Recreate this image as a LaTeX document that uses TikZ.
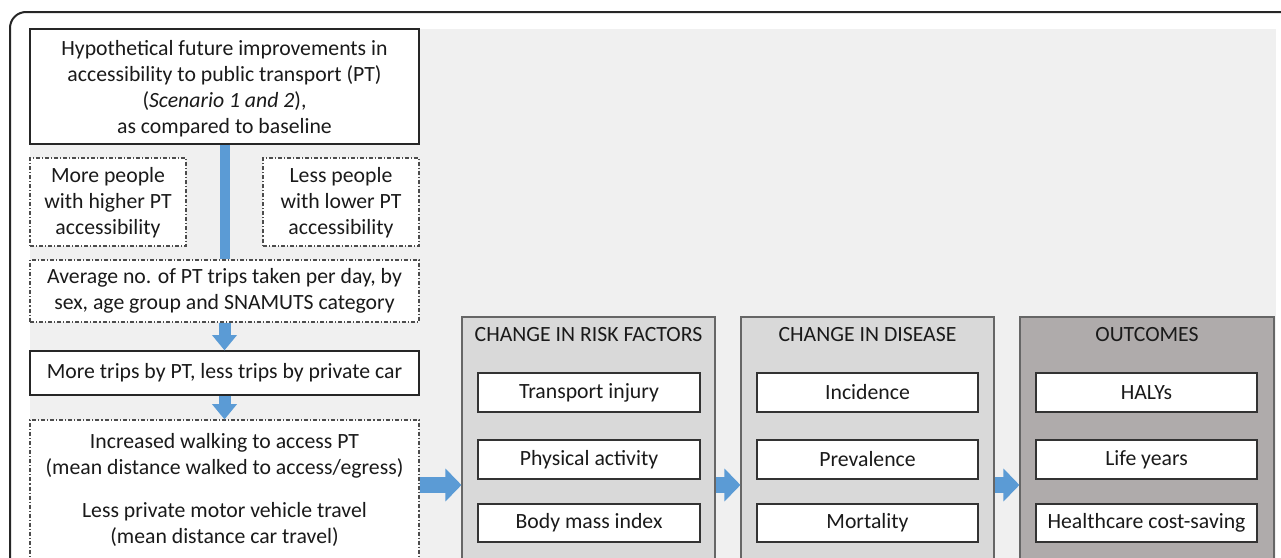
\documentclass[tikz,border=0pt]{standalone}
\usepackage{fontspec}
\setmainfont{Carlito}
\usetikzlibrary{fit,arrows.meta}
\definecolor{bgpanel}{HTML}{F0F0F0}
\definecolor{rfgray}{HTML}{D9D9D9}
\definecolor{outgray}{HTML}{AFABAB}
\definecolor{pblue}{HTML}{5B9BD5}
\definecolor{txt}{HTML}{1A1A1A}
\tikzset{
  solidbox/.style={draw=black!85, line width=0.9pt, fill=white, inner sep=0pt},
  dashbox/.style={draw=black!70, line width=0.8pt, fill=white, inner sep=0pt,
    dash pattern=on 3pt off 1.5pt on 0.8pt off 1.5pt},
  panel/.style={draw=black!60, line width=0.8pt, inner sep=0pt},
  itembox/.style={draw=black!80, line width=0.9pt, fill=white, inner sep=0pt},
  lbl/.style={align=center, text=txt, inner sep=0pt, font=\fontsize{16.3}{19.6}\selectfont},
  blockarrow/.style={draw=pblue, line width=9pt, line cap=butt,
    -{Triangle[width=18pt,length=11.5pt]}},
  wideharrow/.style={draw=pblue, line width=12pt, line cap=butt,
    -{Triangle[width=24pt,length=12pt]}},
  vbar/.style={draw=pblue, line width=7.5pt, line cap=butt},
}
\begin{document}
\begin{tikzpicture}[x=0.75pt,y=-0.75pt]
\useasboundingbox (0,0) rectangle (1281,557);
\clip (0,0) rectangle (1281,557);
% outer frame and background panel
\draw[line width=1.5pt, draw=black!85, rounded corners=12] (1300,12) -- (10,12) -- (10,580);
\fill[bgpanel] (30,29) rectangle (1276,580);

% left column boxes
\node[solidbox, fit={(30,29) (419,144)}] (top) {};
\node[lbl] (topT) at (224.5,89) {Hypothetical future improvements in\\accessibility to public transport (PT)\\(\textit{Scenario 1 and 2}),\\as compared to baseline};
\node[dashbox, fit={(30,158) (186,246)}] (more) {};
\node[lbl] (moreT) at (108,203) {More people\\with higher PT\\accessibility};
\node[dashbox, fit={(263,158) (419,246)}] (less) {};
\node[lbl] (lessT) at (341,203) {Less people\\with lower PT\\accessibility};
\node[dashbox, fit={(30,260) (419,322)}] (avg) {};
\node[lbl] (avgT) at (224.5,291) {Average no. of PT trips taken per day, by\\sex, age group and SNAMUTS category};
\node[solidbox, fit={(30,351) (419,395)}] (trips) {};
\node[lbl] (tripsT) at (224.5,373) {More trips by PT, less trips by private car};
\node[dashbox, fit={(30,420) (419,600)}] (walk) {};
\node[lbl] (walkT) at (224.5,490) {Increased walking to access PT\\(mean distance walked to access/egress)\\[12pt]Less private motor vehicle travel\\(mean distance car travel)};

% panels
\node[panel, fill=rfgray, fit={(462,317) (715,600)}] (rf) {};
\node[lbl] (rfT) at (588.5,335) {CHANGE IN RISK FACTORS};
\node[itembox, fit={(478,373) (700,412)}] (rf1) {};
\node[lbl] (rf1T) at (589,392.5) {Transport injury};
\node[itembox, fit={(478,440) (700,479)}] (rf2) {};
\node[lbl] (rf2T) at (589,459.5) {Physical activity};
\node[itembox, fit={(478,504) (700,542)}] (rf3) {};
\node[lbl] (rf3T) at (589,523) {Body mass index};

\node[panel, fill=rfgray, fit={(741,317) (994,600)}] (dis) {};
\node[lbl] (disT) at (867.5,335) {CHANGE IN DISEASE};
\node[itembox, fit={(757,373) (978,412)}] (dis1) {};
\node[lbl] (dis1T) at (867.5,392.5) {Incidence};
\node[itembox, fit={(757,440) (978,479)}] (dis2) {};
\node[lbl] (dis2T) at (867.5,459.5) {Prevalence};
\node[itembox, fit={(757,504) (978,542)}] (dis3) {};
\node[lbl] (dis3T) at (867.5,523) {Mortality};

\node[panel, fill=outgray, fit={(1020,317) (1274,600)}] (out) {};
\node[lbl] (outT) at (1147,335) {OUTCOMES};
\node[itembox, fit={(1036,373) (1257,412)}] (out1) {};
\node[lbl] (out1T) at (1146.5,392.5) {HALYs};
\node[itembox, fit={(1036,440) (1257,479)}] (out2) {};
\node[lbl] (out2T) at (1146.5,459.5) {Life years};
\node[itembox, fit={(1036,504) (1257,542)}] (out3) {};
\node[lbl] (out3T) at (1146.5,523) {Healthcare cost-saving};

% connectors
\coordinate (ay) at (0,485);
\draw[vbar] (top.south) -- (avg.north);
\draw[blockarrow] (avg.south) -- (trips.north);
\draw[blockarrow] (trips.south) -- (walk.north);
\draw[wideharrow] (walk.east |- ay) -- (rf.west |- ay);
\draw[wideharrow] (rf.east |- ay) -- (dis.west |- ay);
\draw[wideharrow] (dis.east |- ay) -- (out.west |- ay);
\end{tikzpicture}
\end{document}
